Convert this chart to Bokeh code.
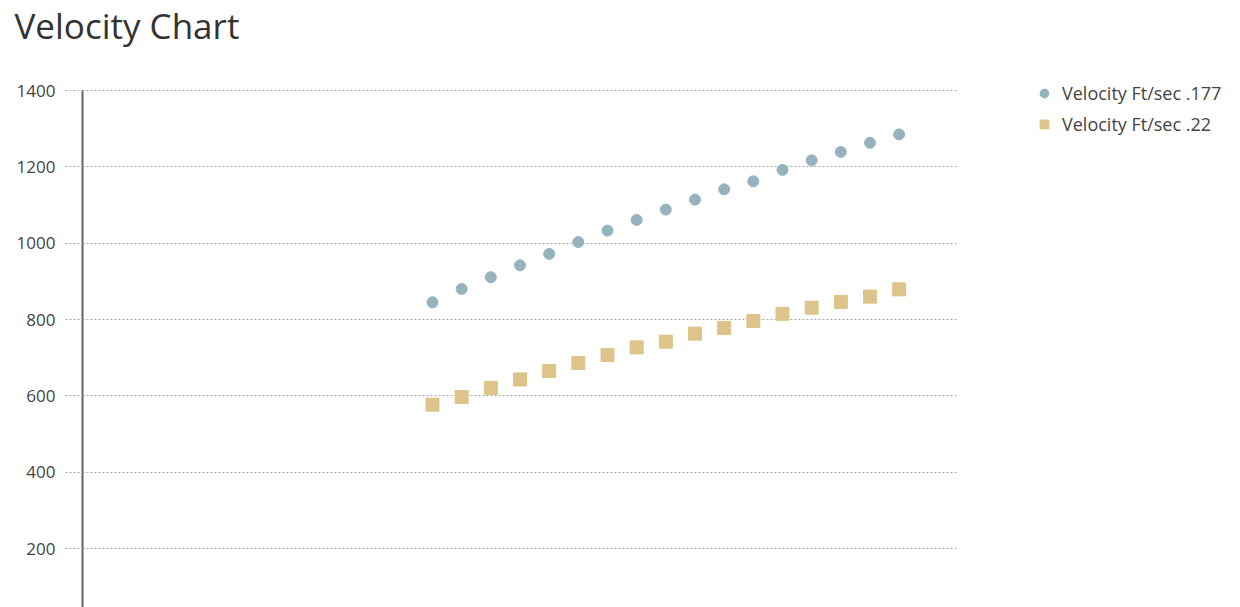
from bokeh.plotting import figure
from bokeh.models import FixedTicker, Range1d, Legend, LegendItem, BoxAnnotation, Label
from bokeh.embed import file_html
from bokeh.resources import INLINE

# Data
x_vals = list(range(12, 29))
vel_177 = [845, 880, 911, 942, 972, 1003, 1033, 1061, 1088, 1114, 1141, 1162, 1192, 1217, 1239, 1263, 1285]
vel_22 = [577, 597, 621, 643, 665, 686, 707, 727, 742, 763, 778, 796, 815, 831, 846, 860, 879]
series_names = ["Velocity Ft/sec .177", "Velocity Ft/sec .22"]
y_ticks = [200, 400, 600, 800, 1000, 1200, 1400]
chart_title = "Velocity Chart"

FONT = "Open Sans"
W, H = 1240, 607
X_END = 30          # right end of the gridded area
Y_TOP = 1400        # top of the axis
Y_BOT = 45.5        # value at the bottom edge of the page
AXIS_PX = 82        # where the y axis sits (pixels from left)
TOP_PX = 90         # where Y_TOP sits (pixels from top)

x_per_px = X_END / (957 - AXIS_PX)
y_per_px = (Y_TOP - Y_BOT) / (H - TOP_PX)
x_start = -AXIS_PX * x_per_px
x_stop = (W - AXIS_PX) * x_per_px
y_stop = Y_TOP + TOP_PX * y_per_px

p = figure(width=W, height=H, output_backend="svg", toolbar_location=None,
           x_range=Range1d(x_start, x_stop), y_range=Range1d(Y_BOT, y_stop),
           x_axis_location=None, title_location=None,
           min_border_left=0, min_border_right=0, min_border_top=0, min_border_bottom=0)
p.outline_line_color = None
p.background_fill_color = "white"
p.border_fill_color = "white"

p.xgrid.visible = False
p.ygrid.grid_line_color = "#aaaaaa"
p.ygrid.grid_line_dash = "2 2"
p.ygrid.grid_line_width = 1
try:
    p.ygrid.cross_bounds = (0, X_END)
except Exception:
    p.add_layout(BoxAnnotation(left=X_END, fill_color="white", fill_alpha=1,
                               line_color=None, level="underlay"))

ax = p.yaxis[0]
ax.fixed_location = 0
ax.ticker = FixedTicker(ticks=y_ticks)
ax.bounds = (Y_BOT, Y_TOP)
ax.axis_line_color = "#666666"
ax.axis_line_width = 2
ax.major_tick_out = 17
ax.major_tick_in = 0
ax.major_tick_line_color = "#aaaaaa"
ax.major_tick_line_dash = "2 2"
ax.minor_tick_line_color = None
ax.major_label_standoff = 10
ax.major_label_text_font = FONT
ax.major_label_text_font_size = "17px"
ax.major_label_text_color = "#444444"

# chart title, placed at the top-left corner of the page
title = Label(x=x_start + 14 * x_per_px, y=Y_TOP + (TOP_PX - 25) * y_per_px,
              text=chart_title, text_font=FONT, text_font_size="35px",
              text_color="#333333", text_baseline="alphabetic", text_align="left")
p.add_layout(title)

r1 = p.scatter(x_vals, vel_177, marker="circle", size=11, fill_color="#96b3bd", line_color="#96b3bd")
r2 = p.scatter(x_vals, vel_22, marker="square", size=13, fill_color="#dcc48a", line_color="#dcc48a")

legend = Legend(items=[LegendItem(label=series_names[0], renderers=[r1]),
                       LegendItem(label=series_names[1], renderers=[r2])],
                location=(1033, 471))
legend.border_line_color = None
legend.background_fill_alpha = 0
legend.padding = 0
legend.margin = 0
legend.spacing = 7
legend.glyph_width = 22
legend.glyph_height = 22
legend.label_height = 24
legend.label_standoff = 7
legend.label_text_font = FONT
legend.label_text_font_size = "18px"
legend.label_text_color = "#444444"
p.add_layout(legend, "center")

open("out.html", "w").write(file_html(p, INLINE))
